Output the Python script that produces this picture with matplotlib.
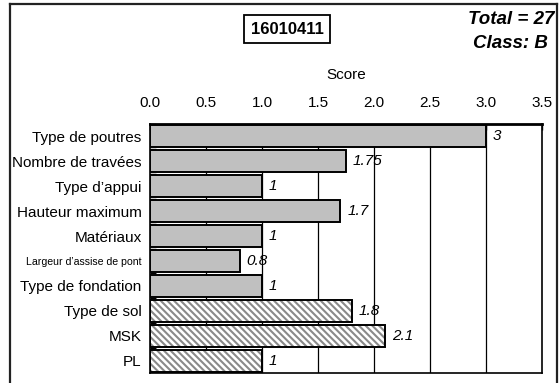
import matplotlib
matplotlib.use("Agg")
import matplotlib.pyplot as plt
from matplotlib.lines import Line2D

plt.rcParams['font.family'] = ['Liberation Sans', 'DejaVu Sans']
plt.rcParams['hatch.linewidth'] = 1.5

# Indicator scores for the structure
categories = ["Type de poutres", "Nombre de travées", "Type d’appui", "Hauteur maximum",
              "Matériaux", "Largeur d’assise de pont", "Type de fondation",
              "Type de sol", "MSK", "PL"]
scores = [3, 1.75, 1, 1.7, 1, 0.8, 1, 1.8, 2.1, 1]
site_factor = [False, False, False, False, False, False, False, True, True, True]
value_labels = ["3", "1.75", "1", "1.7", "1", "0.8", "1", "1.8", "2.1", "1"]
x_ticks = [0.0, 0.5, 1.0, 1.5, 2.0, 2.5, 3.0, 3.5]
structure_id = "16010411"
total_text = "Total = 27"
class_text = "Class: B"

W, H = 559, 383
fig = plt.figure(figsize=(W / 100, H / 100), dpi=100)
ax = fig.add_axes([150 / W, 1 - 373 / H, (542 - 150) / W, (373 - 124) / H])

ypos = list(range(len(categories)))
bar_h = 0.88

# vertical grid behind the bars
for t in x_ticks[1:-1]:
    ax.axvline(t, color='black', lw=0.9, zorder=0)

for y, v, hatched in zip(ypos, scores, site_factor):
    if hatched:
        ax.barh(y, v, height=bar_h, color='white', edgecolor='#8a8a8a',
                hatch='\\\\\\\\\\', linewidth=0, zorder=2)
        ax.barh(y, v, height=bar_h, fill=False, edgecolor='black',
                linewidth=1.4, zorder=3)
    else:
        ax.barh(y, v, height=bar_h, color='#c0c0c0', edgecolor='black',
                linewidth=1.4, zorder=3)

for y, v, lab in zip(ypos, scores, value_labels):
    ax.annotate(lab, (v, y), xytext=(5, 0), textcoords='offset points',
                ha='left', va='center', fontsize=11, style='italic', zorder=4)

ax.set_xlim(0, 3.5)
ax.set_ylim(len(categories) - 0.5, -0.5)
ax.xaxis.set_ticks_position('top')
ax.xaxis.set_label_position('top')
ax.set_xticks(x_ticks)
ax.set_xticklabels([f"{t:.1f}" for t in x_ticks])
ax.tick_params(axis='x', direction='in', length=4, width=1, labelsize=11, pad=10)
ax.set_xlabel("Score", fontsize=11, labelpad=12)

# category labels, with small boundary ticks on the left spine
ax.set_yticks(ypos)
ax.set_yticklabels(categories)
ax.tick_params(axis='y', which='major', length=0, pad=6, labelsize=11)
ax.set_yticks([y + 0.5 for y in ypos[:-1]] + [-0.5], minor=True)
ax.tick_params(axis='y', which='minor', direction='in', length=4, width=1)
for lbl in ax.get_yticklabels():
    if lbl.get_text().startswith("Largeur"):
        lbl.set_fontsize(7.6)

for side in ['left', 'right', 'bottom']:
    ax.spines[side].set_linewidth(1.2)
ax.spines['top'].set_linewidth(2)

# header texts
fig.text(287 / W, 1 - 29 / H, structure_id, ha='center', va='center',
         fontsize=12, fontweight='bold',
         bbox=dict(boxstyle='square,pad=0.4', facecolor='white',
                   edgecolor='black', linewidth=1.3))
fig.text(554 / W, 1 - 19 / H, total_text, ha='right', va='center',
         fontsize=13.5, fontweight='bold', style='italic')
fig.text(548 / W, 1 - 44 / H, class_text, ha='right', va='center',
         fontsize=13.5, fontweight='bold', style='italic')

# outer frame
frame_kw = dict(color='#222222', lw=1.6, transform=fig.transFigure)
fig.add_artist(Line2D([10 / W, 10 / W], [-0.05, 1 - 4 / H], **frame_kw))
fig.add_artist(Line2D([10 / W, 557 / W], [1 - 4 / H, 1 - 4 / H], **frame_kw))
fig.add_artist(Line2D([557 / W, 557 / W], [-0.05, 1 - 4 / H], **frame_kw))

fig.savefig("out.png", dpi=100)
